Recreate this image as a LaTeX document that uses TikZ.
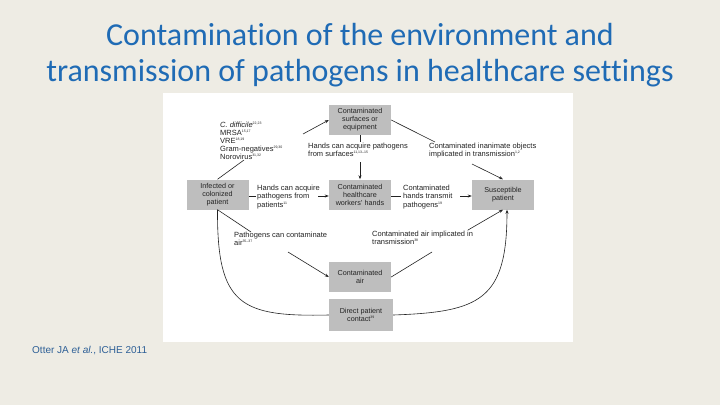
\documentclass[tikz,border=0pt]{standalone}
\usepackage{fontspec}
\setmainfont{Liberation Sans}
\newfontfamily\titlefont[Ligatures={NoCommon}]{Carlito}
\usetikzlibrary{arrows.meta,calc}
\definecolor{bg}{RGB}{238,236,228}
\definecolor{boxgray}{RGB}{190,190,190}
\definecolor{titleblue}{RGB}{31,107,181}
\definecolor{refblue}{RGB}{45,95,150}
\definecolor{ink}{RGB}{35,35,35}
\newcommand{\sr}[1]{\textsuperscript{\fontsize{3.5}{4}\selectfont #1}}
\begin{document}
\begin{tikzpicture}[x=1pt,y=-1pt,
  box/.style={fill=boxgray,draw=none,minimum width=62pt,minimum height=30pt,inner sep=1pt,align=center,font=\fontsize{7.2}{8}\selectfont,text=ink},
  lbl/.style={anchor=north west,inner sep=0pt,align=left,font=\fontsize{7.5}{8.2}\selectfont,text=ink},
  conn/.style={draw=ink,line width=0.6pt},
  arr/.style={conn,-{Stealth[length=4pt,width=3pt]}}]
\useasboundingbox (0,0) rectangle (720,405);
\fill[bg] (0,0) rectangle (720,405);
\fill[white] (163,93) rectangle (573,342);

\node[font=\titlefont\fontsize{32}{36}\selectfont,text=titleblue,align=center] (title) at (360,55)
  {Contamination of the environment and\\transmission of pathogens in healthcare settings};
\node[anchor=west,inner sep=0pt,font=\fontsize{10}{12}\selectfont,text=refblue] (ref) at (32,351)
  {Otter JA \textit{et al.}, ICHE 2011};

% boxes
\node[box] (surf) at (360,120) {Contaminated\\surfaces or\\equipment};
\node[box] (hcw) at (360,194.5) {Contaminated\\healthcare\\workers' hands};
\node[box] (inf) at (217.5,194.5) {Infected or\\colonized\\patient};
\node[box] (sus) at (503,194.5) {Susceptible\\patient};
\node[box] (air) at (360,277) {Contaminated\\air};
\node[box,minimum width=64pt,minimum height=32pt] (dpc) at (361,315) {Direct patient\\contact\sr{39}};

% labels
\node[lbl] (list) at (220,121.5) {\textit{C. difficile}\sr{22,23}\\MRSA\sr{15,17}\\VRE\sr{18,19}\\Gram-negatives\sr{29,30}\\Norovirus\sr{31,32}};
\node[lbl] (hs) at (308,143) {Hands can acquire pathogens\\from surfaces\sr{11,13--15}};
\node[lbl] (io) at (429,143) {Contaminated inanimate objects\\implicated in transmission\sr{1,2}};
\node[lbl] (hp) at (257,185) {Hands can acquire\\pathogens from\\patients\sr{11}};
\node[lbl] (ht) at (403,185) {Contaminated\\hands transmit\\pathogens\sr{19}};
\node[lbl] (pa) at (234,231.5) {Pathogens can contaminate\\air\sr{35--37}};
\node[lbl] (ca) at (372,231) {Contaminated air implicated in\\transmission\sr{38}};

% junction coordinates
\coordinate (c1) at (244,160);
\coordinate (c2) at (303,134);
\coordinate (c3) at (360,142);
\coordinate (c4) at (360,162);
\coordinate (c5) at (435,142);
\coordinate (c6) at (472,164);
\coordinate (c7) at (256,196);
\coordinate (c8) at (318,196);
\coordinate (c9) at (401,196);
\coordinate (c10) at (460,196);
\coordinate (c11) at (251,232);
\coordinate (c12) at (288,252);
\coordinate (c13) at (432,252);
\coordinate (c14) at (468,230);

% connectors
\draw[conn] (inf.north) -- (c1);
\draw[arr] (c2) -- (surf.west);
\draw[conn] (surf.south) -- (c3);
\draw[arr] (c4) -- (hcw.north);
\draw[conn] (surf.east) -- (c5);
\draw[arr] (c6) -- (sus.north);
\draw[conn] (inf.east |- c7) -- (c7);
\draw[arr] (c8) -- (hcw.west |- c8);
\draw[conn] (hcw.east |- c9) -- (c9);
\draw[arr] (c10) -- (sus.west |- c10);
\draw[conn] (inf.south) -- (c11);
\draw[arr] (c12) -- (air.west);
\draw[conn] (air.east) -- (c13);
\draw[arr] (c14) -- (sus.south);
\draw[conn] (inf.south) .. controls (217,305) and (240,317) .. (dpc.west);
\draw[arr] (dpc.east) .. controls (480,312) and (507,300) .. ($(sus.south)+(4,0)$);
\end{tikzpicture}
\end{document}
